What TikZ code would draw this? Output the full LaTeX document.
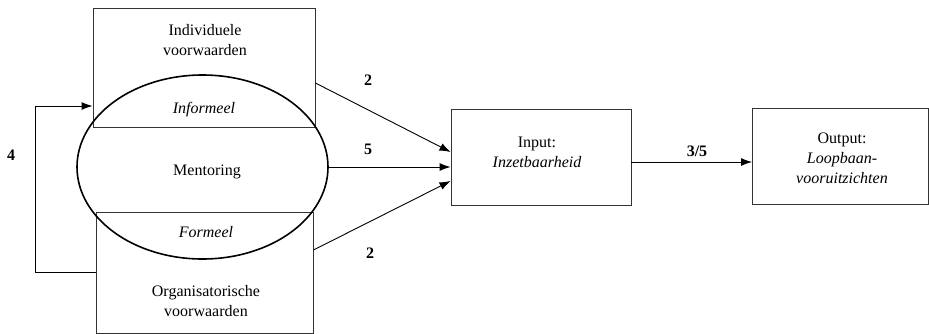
\documentclass[tikz,border=0pt]{standalone}
\usepackage{fontspec}
\setmainfont{Liberation Serif}
\usetikzlibrary{positioning,shapes.geometric,arrows.meta}
\tikzset{every picture/.style={line width=0.9pt}}

\begin{document}
\begin{tikzpicture}[x=1pt, y=-1pt, >={Latex[length=11pt,width=8pt]},
    every node/.style={font=\fontsize{16}{20}\selectfont, align=center},
    box/.style={rectangle, draw=black!80, inner sep=0pt},
    num/.style={font=\fontsize{16}{20}\selectfont\bfseries}]
    \useasboundingbox (0,0) rectangle (929,333);
    % voorwaarden boven en onder
    \node[box, minimum width=222pt, minimum height=119pt] (ind) at (204, 67.5) {};
    \node[box, minimum width=217pt, minimum height=121pt] (org) at (204.5, 272.5) {};
    % mentoring
    \node[ellipse, draw, line width=1.6pt, minimum width=251pt, minimum height=184pt, inner sep=0pt] (ment) at (202.5, 167) {};
    % input en output
    \node[box, minimum width=180pt, minimum height=96pt] (input) at (541, 157) {};
    \node[box, minimum width=176pt, minimum height=96pt] (output) at (840.5, 156) {};
    % teksten
    \node (indtxt) at (205, 40) {Individuele\\voorwaarden};
    \node (inf) at (204, 110) {\itshape Informeel};
    \node (menttxt) at (207, 172) {Mentoring};
    \node (form) at (206, 232) {\itshape Formeel};
    \node (orgtxt) at (206, 301) {Organisatorische\\voorwaarden};
    \node (inputtxt) at (537, 152) {Input:\\\itshape Inzetbaarheid};
    \node (outputtxt) at (842, 158) {Output:\\\itshape Loopbaan-\\\itshape vooruitzichten};
    % pijlen
    \draw[->] (ind.east |- 0,83) -- (input.west |- 0,152);
    \draw[->] (ment.east) -- (input.west |- 0,167);
    \draw[->] (org.east |- 0,250) -- (input.west |- 0,181);
    \draw[->] (input.east |- 0,162) -- (output.west |- 0,162);
    % terugkoppeling
    \coordinate (lus) at (35, 106);
    \draw[->] (org.west) -| (lus) -- (ind.west |- lus);
    % nummers
    \node[num] (n1) at (368, 80) {2};
    \node[num] (n2) at (368, 149) {5};
    \node[num] (n3) at (370, 253) {2};
    \node[num] (n4) at (11, 155) {4};
    \node[num] (n5) at (697, 151) {3/5};
\end{tikzpicture}
\end{document}
